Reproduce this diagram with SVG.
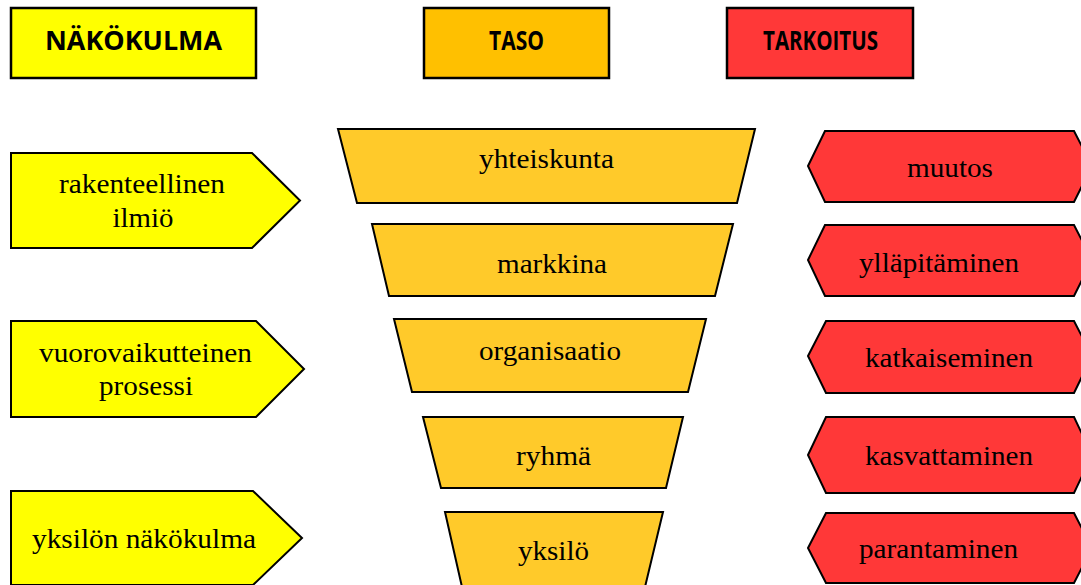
<svg xmlns="http://www.w3.org/2000/svg" width="1081" height="585" viewBox="0 0 1081 585">
<style>
.hd{stroke:#000;stroke-width:2.5}
.sh{stroke:#000;stroke-width:2;stroke-linejoin:miter}
.ht{font-family:"Open Sans","Liberation Sans",sans-serif;font-weight:bold;font-size:26px;text-anchor:middle;fill:#000}
.t{font-family:"Liberation Serif","Times New Roman",serif;font-size:28px;text-anchor:middle;fill:#000}
.y{fill:#FFFF00}.o{fill:#FFC000}.r{fill:#FF3838}.g{fill:#FFCA2A}
</style>
<rect width="1081" height="585" fill="#fff"/>
<g id="head-nakokulma"><rect class="hd y" x="11" y="8" width="245" height="70"/><text class="ht" x="133.5" y="50" textLength="177" lengthAdjust="spacingAndGlyphs">NÄKÖKULMA</text></g>
<g id="head-taso"><rect class="hd o" x="424" y="8" width="185" height="70"/><text class="ht" x="516.5" y="50" textLength="55" lengthAdjust="spacingAndGlyphs">TASO</text></g>
<g id="head-tarkoitus"><rect class="hd r" x="727" y="8" width="186" height="70"/><text class="ht" x="820.5" y="50" textLength="115" lengthAdjust="spacingAndGlyphs">TARKOITUS</text></g>

<g id="n-rakenteellinen"><polygon class="sh y" points="11,153 252,153 300,200.5 252,248 11,248"/><text class="t" x="142" y="193" textLength="166" lengthAdjust="spacingAndGlyphs">rakenteellinen</text><text class="t" x="143" y="227" textLength="61" lengthAdjust="spacingAndGlyphs">ilmiö</text></g>
<g id="n-vuorovaikutteinen"><polygon class="sh y" points="11,321 256,321 304,369 256,417 11,417"/><text class="t" x="145.5" y="362" textLength="213" lengthAdjust="spacingAndGlyphs">vuorovaikutteinen</text><text class="t" x="146" y="395" textLength="94" lengthAdjust="spacingAndGlyphs">prosessi</text></g>
<g id="n-yksilon"><polygon class="sh y" points="11,491 253,491 302,538 253,585 11,585"/><text class="t" x="144" y="548" textLength="224" lengthAdjust="spacingAndGlyphs">yksilön näkökulma</text></g>

<g id="t-yhteiskunta"><polygon class="sh g" points="338,129 755,129 737,203 357,203"/><text class="t" x="546.5" y="168" textLength="135" lengthAdjust="spacingAndGlyphs">yhteiskunta</text></g>
<g id="t-markkina"><polygon class="sh g" points="372,224 733,224 715,296 389,296"/><text class="t" x="552" y="273" textLength="110" lengthAdjust="spacingAndGlyphs">markkina</text></g>
<g id="t-organisaatio"><polygon class="sh g" points="394,319 706,319 688,392 412,392"/><text class="t" x="550" y="360" textLength="142" lengthAdjust="spacingAndGlyphs">organisaatio</text></g>
<g id="t-ryhma"><polygon class="sh g" points="423,417 683,417 666,488 441,488"/><text class="t" x="553.5" y="465" textLength="75" lengthAdjust="spacingAndGlyphs">ryhmä</text></g>
<g id="t-yksilo"><polygon class="sh g" points="445,512 663,512 645,587 462,587"/><text class="t" x="553.5" y="560" textLength="71" lengthAdjust="spacingAndGlyphs">yksilö</text></g>

<g id="p-muutos"><polygon class="sh r" points="808,166 825,131 1074,131 1092,166 1074,202 825,202"/><text class="t" x="950" y="177" textLength="86" lengthAdjust="spacingAndGlyphs">muutos</text></g>
<g id="p-yllapitaminen"><polygon class="sh r" points="808,260 825,225 1074,225 1092,260 1074,296 825,296"/><text class="t" x="939" y="272" textLength="160" lengthAdjust="spacingAndGlyphs">ylläpitäminen</text></g>
<g id="p-katkaiseminen"><polygon class="sh r" points="808,356 826,321 1074,321 1092,356 1074,393 826,393"/><text class="t" x="949" y="367" textLength="168" lengthAdjust="spacingAndGlyphs">katkaiseminen</text></g>
<g id="p-kasvattaminen"><polygon class="sh r" points="808,455 826,417 1074,417 1092,455 1074,493 826,493"/><text class="t" x="949" y="465" textLength="168" lengthAdjust="spacingAndGlyphs">kasvattaminen</text></g>
<g id="p-parantaminen"><polygon class="sh r" points="808,548 826,513 1074,513 1092,548 1074,583 826,583"/><text class="t" x="938.5" y="558" textLength="159" lengthAdjust="spacingAndGlyphs">parantaminen</text></g>
<g id="connectors"/>
</svg>
